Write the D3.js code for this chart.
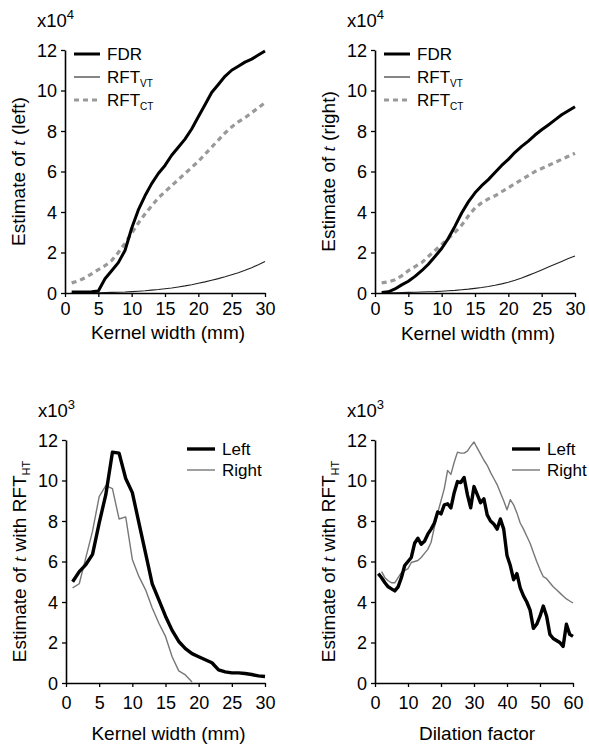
<!DOCTYPE html>
<html>
<head>
<meta charset="utf-8">
<script src="https://cdn.jsdelivr.net/npm/d3@7"></script>
<style>
  body { margin: 0; background: #fff; }
  text { font-family: "Liberation Sans", Arial, sans-serif; fill: #000; }
</style>
</head>
<body>
<div id="chart"></div>
<script>
const width = 589;
const height = 748;

// kernel widths (mm) for the top panels and bottom-left panel
const kernelWidth = [1, 2, 3, 4, 5, 6, 7, 8, 9, 10, 11, 12, 13, 14, 15,
    16, 17, 18, 19, 20, 21, 22, 23, 24, 25, 26, 27, 28, 29, 30];

// estimates of t, x10^4 (left hemisphere)
const fdrLeft = [0.05, 0.05, 0.05, 0.06, 0.1, 0.7, 1.1, 1.5, 2.1, 3.2, 4.1, 4.8, 5.4, 5.9, 6.3,
    6.8, 7.2, 7.6, 8.1, 8.7, 9.3, 9.9, 10.3, 10.7, 11.0, 11.2, 11.4, 11.55, 11.75, 11.95];
const rftVtLeft = [0, 0, 0, 0.01, 0.01, 0.02, 0.03, 0.04, 0.05, 0.07, 0.09, 0.11, 0.14, 0.17, 0.21,
    0.25, 0.3, 0.35, 0.41, 0.48, 0.55, 0.63, 0.71, 0.8, 0.9, 1.0, 1.12, 1.25, 1.4, 1.56];
const rftCtLeft = [0.5, 0.6, 0.75, 0.95, 1.15, 1.35, 1.6, 2.0, 2.45, 2.95, 3.45, 3.9, 4.3, 4.7, 5.0,
    5.3, 5.6, 5.9, 6.2, 6.5, 6.85, 7.2, 7.55, 7.9, 8.2, 8.45, 8.65, 8.9, 9.15, 9.4];

// estimates of t, x10^4 (right hemisphere)
const fdrRight = [0.03, 0.06, 0.2, 0.4, 0.58, 0.82, 1.1, 1.42, 1.8, 2.2, 2.7, 3.3, 3.95, 4.5, 4.95,
    5.3, 5.6, 5.95, 6.3, 6.6, 6.95, 7.24, 7.5, 7.8, 8.06, 8.3, 8.55, 8.8, 9.0, 9.2];
const rftVtRight = [0, 0.01, 0.01, 0.02, 0.03, 0.04, 0.05, 0.06, 0.07, 0.09, 0.11, 0.13, 0.16, 0.19, 0.23,
    0.27, 0.32, 0.38, 0.45, 0.53, 0.63, 0.74, 0.87, 1.0, 1.14, 1.28, 1.42, 1.56, 1.7, 1.83];
const rftCtRight = [0.5, 0.55, 0.65, 0.85, 1.1, 1.3, 1.5, 1.8, 2.1, 2.4, 2.7, 3.0, 3.35, 3.8, 4.2,
    4.45, 4.65, 4.8, 5.0, 5.2, 5.4, 5.6, 5.8, 6.0, 6.15, 6.3, 6.45, 6.6, 6.75, 6.9];

// RFT_HT estimates vs kernel width, x10^3
const htLeftKernel = [5.0, 5.5, 5.85, 6.35, 7.9, 9.3, 11.4, 11.35, 10.1, 9.4, 7.9, 6.4, 4.9, 4.1, 3.3,
    2.6, 2.05, 1.7, 1.45, 1.3, 1.15, 1.0, 0.65, 0.55, 0.5, 0.5, 0.47, 0.42, 0.35, 0.32];
const htRightKernel = [4.7, 4.9, 6.2, 7.5, 9.2, 9.75, 9.6, 8.1, 8.2, 6.1, 5.25, 4.6, 3.7, 2.95, 2.3,
    1.3, 0.6, 0.4, 0.05, null, null, null, null, null, null, null, null, null, null, null];

// dilation factors for the bottom-right panel
const dilation = [1, 2, 3, 4, 5, 6, 7, 8, 9, 10, 11, 12, 13, 14, 15, 16, 17, 18, 19, 20,
    21, 22, 23, 24, 25, 26, 27, 28, 29, 30, 31, 32, 33, 34, 35, 36, 37, 38, 39, 40,
    41, 42, 43, 44, 45, 46, 47, 48, 49, 50, 51, 52, 53, 54, 55, 56, 57, 58, 59, 60];
const htLeftDil = [5.4, 5.2, 4.95, 4.75, 4.65, 4.55, 4.75, 5.2, 5.8, 6.0, 6.2, 6.9, 7.15, 6.85, 7.0,
    7.35, 7.6, 7.9, 8.45, 8.35, 8.8, 8.85, 8.65, 9.4, 9.95, 9.9, 10.15, 9.3, 8.65, 9.7,
    9.3, 8.9, 9.1, 8.3, 8.0, 7.85, 7.6, 8.1, 7.6, 6.3, 5.8, 5.1, 5.4, 4.7, 4.3,
    4.0, 3.6, 2.7, 2.9, 3.3, 3.8, 3.3, 2.4, 2.2, 2.1, 2.0, 1.8, 2.9, 2.4, 2.3];
const htRightDil = [null, 5.5, 5.2, 5.05, 4.95, 4.95, 5.2, 5.45, 5.55, 5.65, 5.95, 6.0, 6.05, 6.2, 6.4,
    6.6, 6.95, 7.7, 8.4, 9.0, 9.6, 10.5, 10.3, 10.9, 11.4, 11.35, 11.35, 11.45, 11.7, 11.9,
    11.6, 11.3, 11.0, 10.75, 10.4, 10.1, 9.8, 9.4, 9.0, 8.55, 9.05, 8.8, 8.4, 7.9, 7.6,
    7.25, 6.9, 6.45, 6.0, 5.6, 5.25, 5.15, 4.95, 4.75, 4.6, 4.45, 4.3, 4.15, 4.05, 3.95];

const yTicks = [0, 2, 4, 6, 8, 10, 12];
const kernelTicks = [0, 5, 10, 15, 20, 25, 30];
const dilationTicks = [0, 10, 20, 30, 40, 50, 60];

const svg = d3.select("#chart")
    .append("svg")
    .attr("width", width)
    .attr("height", height);

const styles = {
    fdr: { stroke: "#000", width: 3, dash: null },
    vt: { stroke: "#222", width: 1.1, dash: null },
    ct: { stroke: "#999", width: 3.2, dash: "5,4" },
    left: { stroke: "#000", width: 3.4, dash: null },
    right: { stroke: "#777", width: 1.4, dash: null }
};

function drawPanel(p) {
    const g = svg.append("g");
    const x = d3.scaleLinear().domain(p.xDomain).range([p.left, p.right]);
    const y = d3.scaleLinear().domain([0, 12]).range([p.bottom, p.top]);

    const line = (vals) => d3.line()
        .defined((d, i) => vals[i] != null)
        .x((d) => x(d))
        .y((d, i) => y(vals[i]));

    p.series.forEach(s => {
        const st = styles[s.style];
        g.append("path")
            .attr("d", line(s.values)(p.xs))
            .attr("fill", "none")
            .attr("stroke", st.stroke)
            .attr("stroke-width", st.width)
            .attr("stroke-dasharray", st.dash)
            .attr("stroke-linejoin", "round");
    });

    const xAxis = g.append("g")
        .attr("transform", `translate(0,${p.bottom})`)
        .call(d3.axisBottom(x).tickValues(p.xTicks).tickSize(4).tickSizeOuter(0).tickPadding(p.xPad));
    const yAxis = g.append("g")
        .attr("transform", `translate(${p.left},0)`)
        .call(d3.axisLeft(y).tickValues(yTicks).tickSize(4).tickSizeOuter(0).tickPadding(4));

    [xAxis, yAxis].forEach(a => {
        a.select(".domain").attr("stroke", "#000").attr("stroke-width", 1.6);
        a.selectAll(".tick line").attr("stroke", "#000").attr("stroke-width", 1.3);
        a.selectAll(".tick text")
            .style("font-family", "'Liberation Sans', Arial, sans-serif")
            .style("font-size", "18px")
            .attr("fill", "#000");
    });
    yAxis.selectAll(".tick text").attr("dy", "0.36em");

    // exponent label
    const ex = g.append("text")
        .attr("x", p.left - 28)
        .attr("y", p.top - 23)
        .style("font-size", "18.5px")
        .text("x10");
    ex.append("tspan")
        .attr("dy", -8)
        .style("font-size", "13px")
        .text(p.exponent);

    // x axis title
    g.append("text")
        .attr("x", (p.left + p.right) / 2 + 3)
        .attr("y", p.bottom + p.xTitleOffset)
        .attr("text-anchor", "middle")
        .style("font-size", "19px")
        .text(p.xTitle);

    // y axis title
    const yt = g.append("text")
        .attr("transform", `translate(${p.left - 40},${(p.top + p.bottom) / 2}) rotate(-90)`)
        .attr("text-anchor", "middle")
        .style("font-size", "19px");
    yt.append("tspan").text("Estimate of ");
    yt.append("tspan")
        .style("font-family", "'Liberation Serif', 'Times New Roman', serif")
        .style("font-style", "italic")
        .text("t");
    yt.append("tspan").text(p.yTitleEnd);
    if (p.yTitleSub) {
        yt.append("tspan")
            .attr("dy", 4)
            .style("font-size", "11px")
            .text(p.yTitleSub);
    }

    // legend
    p.legend.forEach((l, i) => {
        const st = styles[l.style];
        const ly = p.legendY + i * p.legendGap;
        g.append("line")
            .attr("x1", p.legendX).attr("x2", p.legendX + p.legendLen)
            .attr("y1", ly).attr("y2", ly)
            .attr("stroke", st.stroke)
            .attr("stroke-width", st.width)
            .attr("stroke-dasharray", st.dash);
        const t = g.append("text")
            .attr("x", p.legendX + p.legendLen + 7)
            .attr("y", ly + 6)
            .style("font-size", "17px")
            .text(l.label);
        if (l.sub) {
            t.append("tspan")
                .attr("dy", 4)
                .style("font-size", "10px")
                .text(l.sub);
        }
    });
}

const topLegend = [
    { label: "FDR", style: "fdr" },
    { label: "RFT", sub: "VT", style: "vt" },
    { label: "RFT", sub: "CT", style: "ct" }
];
const bottomLegend = [
    { label: "Left", style: "left" },
    { label: "Right", style: "right" }
];

drawPanel({
    left: 65, right: 265, top: 50, bottom: 293,
    xDomain: [0, 30], xs: kernelWidth, xTicks: kernelTicks, xPad: 5, xTitleOffset: 46,
    series: [
        { values: rftCtLeft, style: "ct" },
        { values: rftVtLeft, style: "vt" },
        { values: fdrLeft, style: "fdr" }
    ],
    exponent: "4", xTitle: "Kernel width (mm)", yTitleEnd: " (left)",
    legend: topLegend, legendX: 74, legendLen: 26, legendY: 54, legendGap: 23
});

drawPanel({
    left: 375, right: 575, top: 50, bottom: 293,
    xDomain: [0, 30], xs: kernelWidth, xTicks: kernelTicks, xPad: 5, xTitleOffset: 47,
    series: [
        { values: rftCtRight, style: "ct" },
        { values: rftVtRight, style: "vt" },
        { values: fdrRight, style: "fdr" }
    ],
    exponent: "4", xTitle: "Kernel width (mm)", yTitleEnd: " (right)",
    legend: topLegend, legendX: 384, legendLen: 26, legendY: 54, legendGap: 23
});

drawPanel({
    left: 66, right: 265, top: 440, bottom: 683,
    xDomain: [0, 30], xs: kernelWidth, xTicks: kernelTicks, xPad: 9, xTitleOffset: 57,
    series: [
        { values: htRightKernel, style: "right" },
        { values: htLeftKernel, style: "left" }
    ],
    exponent: "3", xTitle: "Kernel width (mm)", yTitleEnd: " with RFT", yTitleSub: "HT",
    legend: bottomLegend, legendX: 187, legendLen: 28, legendY: 449, legendGap: 21
});

drawPanel({
    left: 375, right: 573, top: 440, bottom: 683,
    xDomain: [0, 60], xs: dilation, xTicks: dilationTicks, xPad: 9, xTitleOffset: 57,
    series: [
        { values: htRightDil, style: "right" },
        { values: htLeftDil, style: "left" }
    ],
    exponent: "3", xTitle: "Dilation factor", yTitleEnd: " with RFT", yTitleSub: "HT",
    legend: bottomLegend, legendX: 512, legendLen: 28, legendY: 449, legendGap: 21
});
</script>
</body>
</html>
